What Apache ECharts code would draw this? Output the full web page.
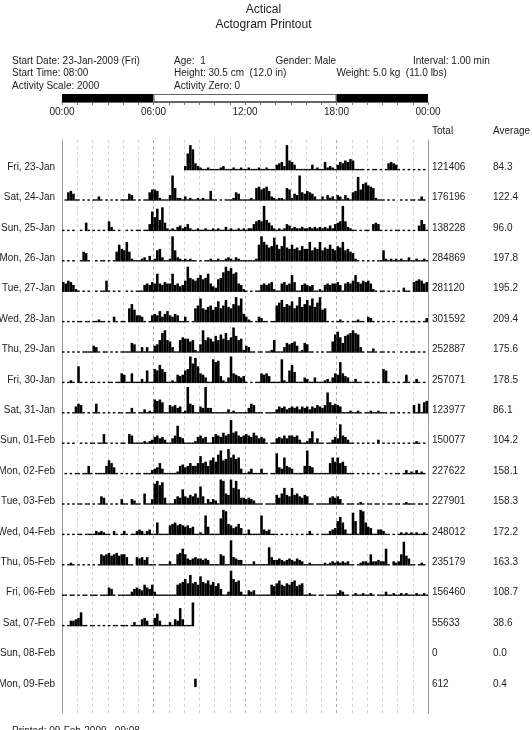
<!DOCTYPE html>
<html>
<head>
<meta charset="utf-8">
<script src="https://cdn.jsdelivr.net/npm/echarts@6/dist/echarts.min.js"></script>
<style>
  html, body { margin: 0; padding: 0; background: #fff; }
  #chart { width: 532px; height: 730px; }
</style>
</head>
<body>
<div id="chart"></div>
<script>
// 每天的标签、总计与平均值
const dayLabels = ['Fri, 23-Jan', 'Sat, 24-Jan', 'Sun, 25-Jan', 'Mon, 26-Jan', 'Tue, 27-Jan', 'Wed, 28-Jan',
  'Thu, 29-Jan', 'Fri, 30-Jan', 'Sat, 31-Jan', 'Sun, 01-Feb', 'Mon, 02-Feb', 'Tue, 03-Feb',
  'Wed, 04-Feb', 'Thu, 05-Feb', 'Fri, 06-Feb', 'Sat, 07-Feb', 'Sun, 08-Feb', 'Mon, 09-Feb']
const dayTotals = [121406, 176196, 138228, 284869, 281120, 301592, 252887, 257071, 123977,
  150077, 227622, 227901, 248012, 235179, 156460, 55633, 0, 612]
const dayAverages = [84.3, 122.4, 96.0, 197.8, 195.2, 209.4, 175.6, 178.5, 86.1,
  104.2, 158.1, 158.3, 172.2, 163.3, 108.7, 38.6, 0.0, 0.4]

// 时间轴标签 (每 6 小时)
const hourTicks = ['00:00', '06:00', '12:00', '18:00', '00:00']
// 光照条: 暗 6h, 亮 12h, 暗 6h
const lightPhaseHours = [6, 12, 6]
const lightPhaseDark = [true, false, true]

// 活动量 (单位: 百次计数), 每 10 分钟一个值, 每行 4 小时
const fri23Jan = [
  0,0,0,0,0,0, 0,0,0,0,0,0, 0,0,0,0,0,0, 0,0,0,0,0,0,
  0,0,0,0,0,0, 0,0,0,0,0,0, 0,0,0,0,0,0, 0,0,0,0,0,0,
  3,12,18,15,5,3, 2,1,1,2,1,1, 1,1,2,3,1,1, 1,2,1,1,2,1,
  1,2,1,1,1,2, 1,1,2,1,1,1, 4,5,6,3,18,7, 6,4,1,1,1,1,
  1,1,4,1,2,1, 1,6,2,3,2,1, 4,6,5,7,6,8, 7,1,1,1,1,0,
  1,0,1,1,0,1, 0,1,5,6,5,4, 1,0,1,0,1,0, 1,0,1,0,1,0]
const sat24Jan = [
  0,1,6,7,5,1, 1,0,1,0,1,0, 1,1,3,1,0,1, 0,1,0,1,0,1,
  1,1,5,4,1,0, 1,0,1,1,6,8, 8,7,2,1,1,1, 4,18,9,2,2,1,
  3,1,2,1,1,2, 1,2,1,1,7,1, 1,0,1,0,1,1, 1,2,6,5,1,1,
  1,1,2,1,9,10, 8,9,10,7,3,2, 1,2,2,1,9,8, 2,5,4,18,6,5,
  7,6,5,3,1,1, 3,1,4,2,3,1, 4,3,1,4,2,1, 6,7,17,8,12,13,
  11,10,9,2,1,1, 1,0,1,0,1,0, 0,1,0,1,0,1, 1,0,1,3,1,0]
const sun25Jan = [
  1,0,1,0,1,0, 0,1,0,6,1,0, 1,0,1,0,1,0, 7,3,1,0,1,0,
  0,1,0,1,0,1, 1,0,1,1,5,14, 10,16,8,17,6,2, 1,2,1,3,4,2,
  3,5,2,1,1,2, 1,1,2,1,1,2, 1,2,1,1,3,1, 2,1,1,2,1,2,
  1,2,2,5,7,8, 7,18,8,6,4,2, 1,2,1,2,5,4, 2,3,2,2,3,2,
  2,3,2,3,2,3, 2,3,2,4,2,5, 6,7,18,7,3,2, 1,1,0,1,0,1,
  1,0,5,6,5,1, 0,1,0,1,0,1, 1,0,1,0,1,0, 1,0,4,8,5,1]
const mon26Jan = [
  1,0,1,0,1,0, 0,1,7,6,1,0, 0,1,0,1,1,0, 1,0,1,7,12,9,
  8,14,7,2,1,1, 1,2,3,1,4,1, 2,8,9,3,1,1, 2,18,8,3,2,1,
  2,1,2,1,1,0, 1,0,1,1,2,1, 1,2,1,1,2,3, 2,1,3,2,1,1,
  1,1,1,1,2,12, 18,14,12,10,11,17, 12,9,11,18,10,9, 12,9,10,8,11,9,
  9,14,8,10,9,14, 8,10,9,12,9,8, 11,10,14,8,9,7, 6,2,1,0,1,0,
  1,0,1,0,1,1, 8,2,1,2,1,2, 1,2,1,1,3,1, 1,2,1,1,2,1]
const tue27Jan = [
  7,6,8,7,5,2, 1,0,1,0,1,0, 0,1,0,1,1,8, 1,0,1,0,1,0,
  0,1,0,1,0,1, 1,1,5,6,5,7, 6,13,6,5,7,6, 6,13,5,6,4,5,
  8,18,10,9,8,10, 12,9,10,13,6,4, 3,9,10,14,18,15, 17,13,14,6,5,2,
  1,0,1,0,1,1, 5,6,5,6,7,2, 1,1,6,7,5,6, 12,7,1,1,5,6,
  5,4,5,1,1,2, 1,5,6,5,6,6, 7,5,1,6,7,6, 8,12,7,6,8,7,
  8,6,2,1,0,1, 1,0,1,0,1,0, 1,0,3,1,1,0, 7,8,9,8,6,7]
const wed28Jan = [
  1,0,1,0,1,0, 1,1,0,1,1,0, 1,1,2,1,1,0, 1,0,4,1,0,1,
  1,0,10,13,9,5, 5,4,1,0,1,5, 6,5,8,4,6,8, 5,4,6,5,1,1,
  4,1,0,1,10,12, 17,10,9,11,12,9, 11,15,10,12,16,11, 10,13,18,12,17,6,
  4,2,1,0,1,4, 3,1,1,0,1,1, 12,14,16,11,13,12, 15,10,12,18,11,13,
  16,12,17,11,14,18, 9,10,1,0,1,0, 1,2,1,0,1,0, 1,1,2,1,1,0,
  4,3,1,0,1,0, 1,0,1,0,1,0, 0,1,0,1,0,1, 1,0,1,0,1,3]
const thu29Jan = [
  1,0,1,0,1,0, 1,0,1,1,1,1, 5,4,1,0,1,1, 0,1,0,1,0,1,
  1,1,1,7,6,1, 1,4,1,4,1,1, 5,6,9,14,16,9, 8,4,1,1,9,11,
  10,10,8,9,2,1, 6,16,9,11,10,8, 12,9,13,10,14,9, 11,18,12,9,10,2,
  5,4,1,1,0,1, 1,0,1,1,2,9, 1,1,1,4,7,6, 7,8,5,1,2,7,
  6,1,1,0,1,0, 1,0,1,1,8,13, 15,11,7,12,13,14, 16,14,13,4,1,0,
  1,1,3,1,0,1, 1,0,1,0,1,0, 0,1,0,1,0,1, 1,0,1,0,1,0]
const fri30Jan = [
  1,0,1,2,1,0, 12,1,0,1,0,1, 1,0,1,0,1,0, 1,1,0,1,1,7,
  6,1,1,7,1,1, 1,3,1,9,1,1, 10,9,13,10,8,1, 1,2,1,6,5,6,
  9,10,19,14,18,12, 7,6,4,1,1,17, 15,16,5,2,1,4, 19,7,6,5,4,5,
  1,0,1,0,1,1, 7,6,7,5,1,1, 1,1,17,2,1,9, 13,8,1,1,1,4,
  3,1,1,4,1,1, 1,2,3,1,4,7, 6,15,7,5,4,1, 1,3,1,1,0,1,
  1,0,1,0,1,0, 10,9,1,0,1,0, 1,0,1,6,1,0, 1,3,1,0,1,0]
const sat31Jan = [
  1,0,1,0,1,5, 7,6,1,0,1,0, 1,7,1,0,1,0, 1,0,1,0,1,1,
  0,1,1,4,1,0, 1,1,3,1,2,1, 10,9,10,8,1,1, 6,5,6,4,5,1,
  2,19,7,6,1,1, 5,4,19,4,4,1, 1,1,1,1,1,3, 1,2,1,1,1,1,
  1,4,7,6,1,1, 1,0,1,1,1,1, 3,5,4,5,3,4, 5,4,5,3,5,4,
  5,3,5,4,6,5, 4,6,15,8,6,7, 6,5,1,1,1,2, 1,1,2,1,0,1,
  1,2,1,1,2,1, 1,1,0,1,1,0, 1,0,1,0,1,0, 6,1,7,1,8,9]
const sun01Feb = [
  1,0,1,0,1,0, 0,1,0,1,0,1, 1,0,1,1,7,1, 0,1,0,1,0,1,
  1,0,7,6,1,1, 1,1,2,1,2,3, 5,6,4,5,3,1, 1,4,6,13,5,4,
  1,1,1,1,2,5, 6,4,5,1,1,5, 7,6,5,8,6,7, 17,8,9,6,5,6,
  7,6,5,8,6,4, 5,4,1,0,1,1, 4,5,4,6,4,6, 6,5,6,3,1,1,
  2,4,9,1,4,1, 1,0,1,1,3,5, 4,14,6,5,3,1, 1,0,1,0,1,0,
  1,0,1,0,3,0, 1,0,1,0,1,0, 1,0,1,0,1,0, 1,2,1,0,1,0]
const mon02Feb = [
  0,1,0,1,0,1, 1,0,1,1,6,1, 0,1,1,1,1,6, 10,8,5,1,0,1,
  0,1,0,1,0,1, 1,0,1,1,1,3, 4,5,8,4,1,1, 1,1,1,2,6,7,
  5,6,8,6,6,8, 13,8,9,6,10,12, 9,14,17,10,11,18, 12,14,11,12,4,1,
  1,2,4,1,1,1, 4,1,1,0,1,1, 15,5,4,12,6,5, 4,1,1,1,1,6,
  17,6,5,1,1,1, 1,1,1,8,12,9, 12,8,9,6,1,1, 1,0,1,0,1,0,
  1,0,1,0,1,0, 0,1,0,1,0,1, 1,0,1,3,1,2, 1,3,1,2,1,0]
const tue03Feb = [
  1,0,1,0,1,0, 1,1,0,1,1,0, 1,0,1,6,5,1, 0,1,0,1,0,4,
  1,1,0,4,3,1, 1,0,8,1,1,4, 15,17,14,16,5,1, 1,1,4,6,5,11,
  6,5,7,6,8,5, 13,6,1,4,2,4, 3,1,18,17,8,7, 18,12,17,11,5,5,
  4,5,4,3,1,1, 1,0,1,1,1,1, 7,5,8,12,7,6, 12,7,8,6,5,7,
  6,1,1,0,1,1, 1,1,1,5,6,5, 6,4,1,0,1,1, 1,0,1,2,1,0,
  1,1,0,1,1,0, 1,0,1,1,0,1, 1,0,1,2,1,1, 1,0,1,1,0,1]
const wed04Feb = [
  1,0,1,0,1,0, 1,1,0,1,1,1, 1,3,2,3,2,1, 1,0,3,1,0,1,
  3,1,0,1,1,3, 4,3,1,3,4,1, 1,9,1,1,1,1, 7,8,9,7,8,7,
  6,7,5,6,1,1, 2,1,14,6,1,1, 1,1,12,18,17,8, 7,5,6,8,5,1,
  1,4,1,1,1,1, 14,4,3,4,1,1, 1,0,1,0,1,0, 1,0,1,0,1,0,
  1,3,1,0,1,0, 1,1,1,3,4,5, 10,13,9,4,1,1, 16,10,1,18,17,9,
  6,5,1,1,4,4, 3,1,1,0,1,0, 1,2,1,2,1,2, 1,2,1,1,2,1]
const thu05Feb = [
  1,0,1,2,1,0, 1,0,1,0,1,0, 1,0,1,8,7,8, 9,7,8,9,7,8,
  8,6,1,1,0,6, 5,6,4,6,1,1, 1,0,1,1,1,1, 3,1,1,8,9,12,
  8,5,4,5,6,5, 5,4,5,4,1,1, 1,1,8,7,1,1, 18,6,5,4,4,1,
  1,1,1,3,1,1, 1,1,1,13,6,4, 4,5,4,3,4,5, 4,3,5,4,3,1,
  1,2,1,1,1,1, 1,2,1,2,3,2, 3,2,3,2,3,1, 1,0,1,2,3,3,
  2,8,3,3,4,3, 3,12,1,0,3,2, 3,8,17,7,5,1, 1,0,1,2,1,0]
const fri06Feb = [
  1,1,0,1,1,0, 1,0,1,1,0,1, 1,1,0,1,1,1, 6,5,1,0,1,1,
  1,1,1,3,5,6, 5,4,8,6,5,8, 3,1,1,1,1,1, 1,1,1,8,9,10,
  12,9,15,9,10,8, 14,10,9,11,8,10, 7,9,5,1,1,3, 18,12,10,11,3,1,
  1,4,3,4,1,1, 1,1,1,1,8,7, 9,11,8,7,9,8, 10,11,7,8,9,1,
  1,2,1,1,0,1, 1,0,1,1,1,1, 2,4,3,1,1,0, 1,2,1,1,2,1,
  1,2,1,0,1,1, 1,3,1,1,2,1, 1,2,1,2,1,1, 1,2,1,1,2,1]
const sat07Feb = [
  1,0,1,4,4,5, 6,10,1,1,0,1, 1,0,1,0,1,0, 1,0,1,1,0,1,
  1,1,0,1,3,1, 1,5,6,4,1,1, 6,9,4,1,1,1, 3,1,5,4,13,5,
  1,1,1,17,0,0, 0,0,0,0,0,0, 0,0,0,0,0,0, 0,0,0,0,0,0,
  0,0,0,0,0,0, 0,0,0,0,0,0, 0,0,0,0,0,0, 0,0,0,0,0,0,
  0,0,0,0,0,0, 0,0,0,0,0,0, 0,0,0,0,0,0, 0,0,0,0,0,0,
  0,0,0,0,0,0, 0,0,0,0,0,0, 0,0,0,0,0,0, 0,0,0,0,0,0]
const sun08Feb = [
  0,0,0,0,0,0, 0,0,0,0,0,0, 0,0,0,0,0,0, 0,0,0,0,0,0,
  0,0,0,0,0,0, 0,0,0,0,0,0, 0,0,0,0,0,0, 0,0,0,0,0,0,
  0,0,0,0,0,0, 0,0,0,0,0,0, 0,0,0,0,0,0, 0,0,0,0,0,0,
  0,0,0,0,0,0, 0,0,0,0,0,0, 0,0,0,0,0,0, 0,0,0,0,0,0,
  0,0,0,0,0,0, 0,0,0,0,0,0, 0,0,0,0,0,0, 0,0,0,0,0,0,
  0,0,0,0,0,0, 0,0,0,0,0,0, 0,0,0,0,0,0, 0,0,0,0,0,0]
const mon09Feb = [
  0,0,0,0,0,0, 0,0,0,0,0,0, 0,0,0,0,0,0, 0,0,0,0,0,0,
  0,0,0,0,0,0, 0,0,0,0,0,0, 0,0,0,0,0,0, 0,0,0,0,0,0,
  0,0,0,0,6,0, 0,0,0,0,0,0, 0,0,0,0,0,0, 0,0,0,0,0,0,
  0,0,0,0,0,0, 0,0,0,0,0,0, 0,0,0,0,0,0, 0,0,0,0,0,0,
  0,0,0,0,0,0, 0,0,0,0,0,0, 0,0,0,0,0,0, 0,0,0,0,0,0,
  0,0,0,0,0,0, 0,0,0,0,0,0, 0,0,0,0,0,0, 0,0,0,0,0,0]

const dayActivity = [fri23Jan, sat24Jan, sun25Jan, mon26Jan, tue27Jan, wed28Jan, thu29Jan, fri30Jan,
  sat31Jan, sun01Feb, mon02Feb, tue03Feb, wed04Feb, thu05Feb, fri06Feb, sat07Feb, sun08Feb, mon09Feb]

// 活动量刻度 2000 次 = 20 (百次)
const activityScale = 20

window.onload = function () {
  const font = 'Liberation Sans, Arial, sans-serif'
  const textColor = '#222'
  const plotLeft = 62
  const plotWidth = 366
  const firstBase = 170.3
  const rowStep = 30.4
  const rowHeight = 28

  const grids = []
  const xAxes = []
  const yAxes = []
  const series = []
  const graphics = []

  // 分钟类目 (10 分钟一格)
  const bins = fri23Jan.map((v, i) => i)

  dayActivity.forEach((data, i) => {
    const base = firstBase + rowStep * i
    grids.push({ left: plotLeft, width: plotWidth, top: base - rowHeight, height: rowHeight })
    xAxes.push({
      type: 'category', gridIndex: i, data: bins, boundaryGap: true,
      axisLine: { show: false }, axisTick: { show: false }, axisLabel: { show: false }, splitLine: { show: false }
    })
    yAxes.push({
      type: 'value', gridIndex: i, min: 0, max: activityScale,
      axisLine: { show: false }, axisTick: { show: false }, axisLabel: { show: false }, splitLine: { show: false }
    })
    series.push({
      type: 'bar', xAxisIndex: i, yAxisIndex: i, data: data,
      barCategoryGap: '0%', itemStyle: { color: '#000' }, z: 5, silent: true
    })
    // 行标签、总计、平均
    const ty = base - 3.3
    graphics.push({ type: 'text', x: 55, y: ty, style: { text: dayLabels[i], font: '10px ' + font, fill: textColor, align: 'right', verticalAlign: 'middle' } })
    graphics.push({ type: 'text', x: 432, y: ty, style: { text: String(dayTotals[i]), font: '10px ' + font, fill: textColor, align: 'left', verticalAlign: 'middle' } })
    graphics.push({ type: 'text', x: 493, y: ty, style: { text: dayAverages[i].toFixed(1), font: '10px ' + font, fill: textColor, align: 'left', verticalAlign: 'middle' } })
  })

  // 背景网格: 每小时虚线, 左右实线
  const frameIdx = dayActivity.length
  const splitColors = []
  for (let h = 0; h <= 24; h++) {
    splitColors.push(h === 12 ? '#cdbf72' : (h % 6 === 0 ? '#a9a9a9' : '#d6d6d6'))
  }
  grids.push({ left: plotLeft, width: plotWidth, top: 140, height: 573 })
  xAxes.push({
    type: 'value', gridIndex: frameIdx, min: 0, max: 24, interval: 1,
    axisLine: { show: false }, axisTick: { show: false }, axisLabel: { show: false },
    splitLine: { show: true, lineStyle: { color: splitColors, type: [3, 3], width: 1 } }
  })
  yAxes.push({
    type: 'value', gridIndex: frameIdx, position: 'left', min: 0, max: 1,
    axisLine: { show: true, lineStyle: { color: '#999', width: 1 } },
    axisTick: { show: false }, axisLabel: { show: false }, splitLine: { show: false }
  })
  yAxes.push({
    type: 'value', gridIndex: frameIdx, position: 'right', min: 0, max: 1,
    axisLine: { show: true, lineStyle: { color: '#999', width: 1 } },
    axisTick: { show: false }, axisLabel: { show: false }, splitLine: { show: false }
  })

  // 光照条与时间刻度
  const lightIdx = frameIdx + 1
  grids.push({ left: plotLeft, width: plotWidth, top: 94, height: 8 })
  xAxes.push({
    type: 'value', gridIndex: lightIdx, min: 0, max: 24, interval: 1,
    axisLine: { show: true, lineStyle: { color: '#666', width: 1 } },
    axisTick: { show: true, length: 3, lineStyle: { color: '#777' } },
    axisLabel: {
      show: true, margin: 5, fontSize: 10, fontFamily: font, color: textColor,
      showMinLabel: true, showMaxLabel: true,
      formatter: v => (v % 6 === 0 ? hourTicks[v / 6] : '')
    },
    splitLine: { show: false }
  })
  yAxes.push({
    type: 'category', gridIndex: lightIdx, data: ['LD'],
    axisLine: { show: false }, axisTick: { show: false }, axisLabel: { show: false }
  })
  lightPhaseHours.forEach((len, k) => {
    series.push({
      type: 'bar', xAxisIndex: lightIdx, yAxisIndex: frameIdx + 2, stack: 'ld',
      data: [len], barWidth: '100%', silent: true,
      itemStyle: lightPhaseDark[k] ? { color: '#000' } : { color: '#fff', borderColor: '#666', borderWidth: 1 }
    })
  })

  // 标题与信息文字
  const info = [
    ['Start Date: 23-Jan-2009 (Fri)', 12, 61], ['Age:  1', 174, 61], ['Gender: Male', 275.5, 61], ['Interval: 1.00 min', 413, 61],
    ['Start Time: 08:00', 12, 73], ['Height: 30.5 cm  (12.0 in)', 174, 73], ['Weight: 5.0 kg  (11.0 lbs)', 336.5, 73],
    ['Activity Scale: 2000', 12, 86], ['Activity Zero: 0', 174, 86],
    ['Total', 432, 131], ['Average', 493, 131]
  ]
  info.forEach(t => {
    graphics.push({ type: 'text', x: t[1], y: t[2], style: { text: t[0], font: '10px ' + font, fill: textColor, align: 'left', verticalAlign: 'middle' } })
  })
  graphics.push({ type: 'text', x: 263.5, y: 9.5, style: { text: 'Actical', font: '12px ' + font, fill: textColor, align: 'center', verticalAlign: 'middle' } })
  graphics.push({ type: 'text', x: 263.5, y: 24.5, style: { text: 'Actogram Printout', font: '12px ' + font, fill: textColor, align: 'center', verticalAlign: 'middle' } })
  graphics.push({ type: 'text', x: 12, y: 726.5, style: { text: 'Printed: 09-Feb-2009 , 09:08', font: '10px ' + font, fill: textColor, align: 'left', verticalAlign: 'top' } })

  const chart = echarts.init(document.getElementById('chart'), null, { renderer: 'canvas' })
  chart.setOption({
    animation: false,
    backgroundColor: '#fff',
    grid: grids,
    xAxis: xAxes,
    yAxis: yAxes,
    series: series,
    graphic: graphics
  })
}
</script>
</body>
</html>
